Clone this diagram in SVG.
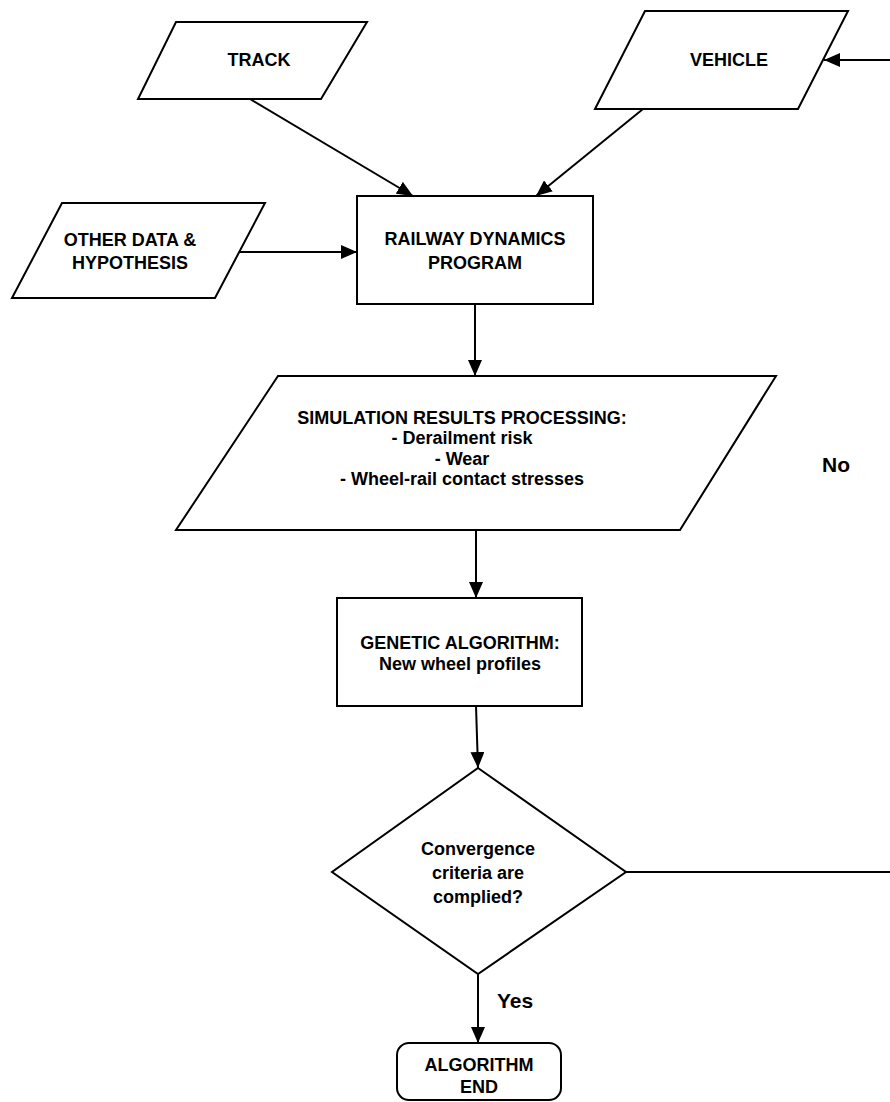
<svg xmlns="http://www.w3.org/2000/svg" width="890" height="1102" viewBox="0 0 890 1102">
<defs>
<style>
.s{fill:#fff;stroke:#000;stroke-width:2}
.t{font-family:"Liberation Sans",Arial,sans-serif;font-weight:bold;font-size:18px;fill:#000;text-anchor:middle}
.l{font-family:"Liberation Sans",Arial,sans-serif;font-weight:bold;font-size:21px;fill:#000}
.c{fill:none;stroke:#000;stroke-width:2}
</style>
<marker id="arr" markerUnits="userSpaceOnUse" markerWidth="16" markerHeight="14" refX="16" refY="7" orient="auto"><path d="M0,0 L16,7 L0,14 z" fill="#000"/></marker>
</defs>
<rect width="890" height="1102" fill="#fff"/>
<g id="connectors">
<line class="c" x1="250" y1="99" x2="413" y2="196" marker-end="url(#arr)"/>
<line class="c" x1="643" y1="109" x2="536" y2="196" marker-end="url(#arr)"/>
<line class="c" x1="240" y1="252" x2="357" y2="252" marker-end="url(#arr)"/>
<line class="c" x1="475" y1="304" x2="475" y2="376" marker-end="url(#arr)"/>
<line class="c" x1="476" y1="530" x2="476" y2="598" marker-end="url(#arr)"/>
<line class="c" x1="476" y1="706" x2="478" y2="768" marker-end="url(#arr)"/>
<line class="c" x1="478" y1="974" x2="478" y2="1043" marker-end="url(#arr)"/>
<line class="c" x1="626" y1="872" x2="890" y2="872"/>
<line class="c" x1="890" y1="60" x2="824" y2="60" marker-end="url(#arr)"/>
</g>
<g id="track"><polygon class="s" points="176,22 367,22 321,99 138,99"/><text class="t" x="259" y="66">TRACK</text></g>
<g id="vehicle"><polygon class="s" points="645,11 848,11 798,109 595,109"/><text class="t" x="729" y="66">VEHICLE</text></g>
<g id="other"><polygon class="s" points="62,203 265,203 215,298 12,298"/><text class="t" x="130" y="246">OTHER DATA &amp;</text><text class="t" x="130" y="269">HYPOTHESIS</text></g>
<g id="railway"><rect class="s" x="357" y="196" width="236" height="108"/><text class="t" x="475" y="245">RAILWAY DYNAMICS</text><text class="t" x="475" y="269">PROGRAM</text></g>
<g id="simulation"><polygon class="s" points="278,376 776,376 680,530 176,530"/>
<text class="t" x="462" y="424">SIMULATION RESULTS PROCESSING:</text>
<text class="t" x="462" y="444">- Derailment risk</text>
<text class="t" x="462" y="465">- Wear</text>
<text class="t" x="462" y="485">- Wheel-rail contact stresses</text></g>
<g id="genetic"><rect class="s" x="337" y="598" width="245" height="108"/><text class="t" x="460" y="649">GENETIC ALGORITHM:</text><text class="t" x="460" y="670">New wheel profiles</text></g>
<g id="decision"><polygon class="s" points="478,768 626,872 478,974 332,872"/><text class="t" x="478" y="855">Convergence</text><text class="t" x="478" y="879">criteria are</text><text class="t" x="478" y="903">complied?</text></g>
<g id="end"><rect class="s" x="397" y="1043" width="164" height="57" rx="12"/><text class="t" x="479" y="1071">ALGORITHM</text><text class="t" x="479" y="1093">END</text></g>
<text class="l" x="497" y="1008">Yes</text>
<text class="l" x="822" y="472">No</text>
</svg>
